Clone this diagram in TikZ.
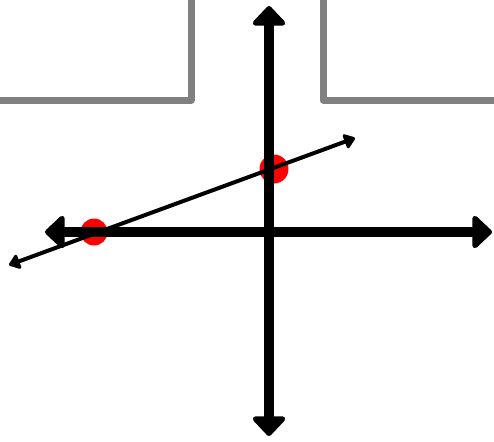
\documentclass[tikz,border=0pt]{standalone}
\usepackage{xcolor}
\usepackage{tikz}
\usetikzlibrary{arrows.meta}

\begin{document}
\begin{tikzpicture}[x=0.02cm,y=-0.02cm,
    axis/.style={black,line width=0.21cm,{Triangle[round,length=0.42cm,width=0.76cm]}-{Triangle[round,length=0.42cm,width=0.76cm]}},
    graphline/.style={black,line width=0.08cm,{Triangle[round,length=0.24cm,width=0.34cm]}-{Triangle[round,length=0.24cm,width=0.34cm]}},
    wall/.style={gray,line width=0.14cm,line join=round}]
    \useasboundingbox (0,0) rectangle (494,441);

    % walls
    \coordinate (w1) at (0,100);
    \coordinate (w2) at (191,100);
    \coordinate (w3) at (191,0);
    \coordinate (w4) at (323,0);
    \coordinate (w5) at (323,100);
    \coordinate (w6) at (494,100);
    \draw[wall] (w1) -- (w2) -- (w3);
    \draw[wall] (w4) -- (w5) -- (w6);

    % points
    \node[circle,fill=red,minimum size=0.54cm,inner sep=0pt] (p1) at (94,232) {};
    \node[circle,fill=red,minimum size=0.58cm,inner sep=0pt] (p2) at (274,169) {};

    % axes
    \coordinate (xl) at (45,232);
    \coordinate (xr) at (492,232);
    \coordinate (yt) at (269,6);
    \coordinate (yb) at (269,436);
    \draw[axis] (xl) -- (xr);
    \draw[axis] (yb) -- (yt);

    % line through the points
    \coordinate (la) at (9,265);
    \coordinate (lb) at (355,138);
    \draw[graphline] (la) -- (lb);
\end{tikzpicture}
\end{document}
